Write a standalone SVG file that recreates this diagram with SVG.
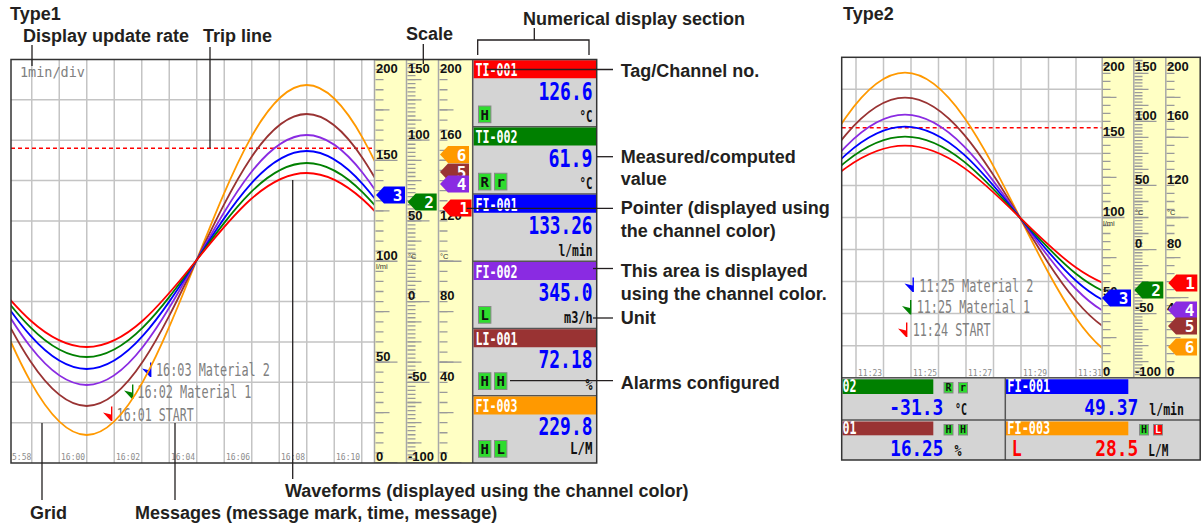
<svg xmlns="http://www.w3.org/2000/svg" width="1201" height="524" viewBox="0 0 1201 524">
<style>
.lbl{font-family:"Liberation Sans",Arial,sans-serif;font-weight:bold;font-size:18px;fill:#231f20}
.lead{stroke:#231f20;stroke-width:1.3;fill:none}
.grid{stroke:#c4c4c4;stroke-width:1.5;fill:none}
.frame{fill:none;stroke:#333;stroke-width:1.5}
.trip{stroke:#ff0000;stroke-width:1.5;stroke-dasharray:4 3}
.wave{fill:none;stroke-width:1.8}
.tm{font-family:"DejaVu Sans Mono","Liberation Mono",monospace;font-size:8px;fill:#8c8c8c}
.msg{font-family:"DejaVu Sans Mono","Liberation Mono",monospace;font-size:17px;fill:#808080}
.rate{font-family:"DejaVu Sans Mono","Liberation Mono",monospace;font-size:14px;fill:#808080}
.sc{font-family:"Liberation Sans",Arial,sans-serif;font-weight:bold;font-size:13px;fill:#111}
.scs{font-family:"Liberation Sans",Arial,sans-serif;font-size:7.5px;fill:#333}
.yel{fill:#ffffc4}
.colsep{stroke:#a8a8a8;stroke-width:1.5}
.tk{stroke:#9a9a9a;fill:none;stroke-dashoffset:0.65}
.tag{font-family:"DejaVu Sans Mono","Liberation Mono",monospace;font-weight:bold;font-size:17px;fill:#fff}
.val{font-family:"DejaVu Sans Mono","Liberation Mono",monospace;font-weight:bold;font-size:24px;fill:#0000ff;text-anchor:end}
.val2{font-family:"DejaVu Sans Mono","Liberation Mono",monospace;font-weight:bold;font-size:22px;fill:#0000ff}
.unit{font-family:"DejaVu Sans Mono","Liberation Mono",monospace;font-weight:bold;font-size:16px;fill:#111}
.alm{fill:#2edc2e;stroke:#888;stroke-width:1}
.almt{font-family:"DejaVu Sans Mono","Liberation Mono",monospace;font-weight:bold;font-size:14px;fill:#111;text-anchor:middle}
.almt2{font-family:"DejaVu Sans Mono","Liberation Mono",monospace;font-weight:bold;font-size:10px;fill:#111;text-anchor:middle}
.body{fill:#d4d4d4}
.sep{stroke:#555;stroke-width:1.5}
.ptxt{font-family:"DejaVu Sans Mono","Liberation Mono",monospace;font-weight:bold;font-size:16px;fill:#fff;text-anchor:end}
</style>
<defs>
  <clipPath id="clip1"><rect x="11" y="59.5" width="363" height="403.5"/></clipPath>
  <clipPath id="clip2"><rect x="841.7" y="57.3" width="260" height="320.4"/></clipPath>
  <!-- scale pointer, tip at origin -->
  <path id="ptr" d="M0,0 L8,-8.5 H29 V8.5 H8 Z"/>
  <!-- message mark: stem with a small flag -->
  <path id="mk" d="M0,0 H1.4 V14.5 H0 L-8,6 L0,8 Z"/>
</defs>

<rect width="1201" height="524" fill="#fff"/>

<!-- ===================== Type1 ===================== -->
<g id="type1-trend">
  <path class="grid" d="M31.75 59.5V463M59.25 59.5V463M86.75 59.5V463M114.25 59.5V463M141.75 59.5V463M169.25 59.5V463M196.75 59.5V463M224.25 59.5V463M251.75 59.5V463M279.25 59.5V463M306.75 59.5V463M334.25 59.5V463M361.75 59.5V463
    M11 99.85H374M11 140.2H374M11 180.55H374M11 220.9H374M11 261.25H374M11 301.6H374M11 341.95H374M11 382.3H374M11 422.65H374"/>
  <text class="rate" x="20" y="77" textLength="65" lengthAdjust="spacingAndGlyphs">1min/div</text>
  <g class="tm">
    <text x="12" y="460">5:58</text>
    <text x="61" y="460">16:00</text>
    <text x="116" y="460">16:02</text>
    <text x="171" y="460">16:04</text>
    <text x="226" y="460">16:06</text>
    <text x="281" y="460">16:08</text>
    <text x="336" y="460">16:10</text>
  </g>
  <line class="trip" x1="11" y1="148.3" x2="374" y2="148.3"/>
  <g id="type1-messages">
    <use href="#mk" x="150" y="362.5" fill="#0000ff"/>
    <text class="msg" x="156" y="376" textLength="114" lengthAdjust="spacingAndGlyphs">16:03 Material 2</text>
    <use href="#mk" x="132" y="384.5" fill="#008000"/>
    <text class="msg" x="137.3" y="398.3" textLength="114" lengthAdjust="spacingAndGlyphs">16:02 Material 1</text>
    <use href="#mk" x="111" y="406.5" fill="#ff0000"/>
    <text class="msg" x="116.7" y="420.7" textLength="77" lengthAdjust="spacingAndGlyphs">16:01 START</text>
  </g>
  <g id="type1-waveforms" clip-path="url(#clip1)">
    <path class="wave" stroke="#ff9900" d="M-23.3 260C12.6 349.7 46.9 435 86.7 435C126.5 435 160.8 349.7 196.7 260C232.6 170.3 266.9 85 306.7 85C346.5 85 380.8 170.3 416.7 260"/>
    <path class="wave" stroke="#993333" d="M-23.3 260C12.6 334.9 46.9 406 86.7 406C126.5 406 160.8 334.9 196.7 260C232.6 185.1 266.9 114 306.7 114C346.5 114 380.8 185.1 416.7 260"/>
    <path class="wave" stroke="#8a2be2" d="M-23.3 260C12.6 324.1 46.9 385 86.7 385C126.5 385 160.8 324.1 196.7 260C232.6 195.9 266.9 135 306.7 135C346.5 135 380.8 195.9 416.7 260"/>
    <path class="wave" stroke="#0000ff" d="M-23.3 260C12.6 315.9 46.9 369 86.7 369C126.5 369 160.8 315.9 196.7 260C232.6 204.1 266.9 151 306.7 151C346.5 151 380.8 204.1 416.7 260"/>
    <path class="wave" stroke="#008000" d="M-23.3 260C12.6 309.7 46.9 357 86.7 357C126.5 357 160.8 309.7 196.7 260C232.6 210.3 266.9 163 306.7 163C346.5 163 380.8 210.3 416.7 260"/>
    <path class="wave" stroke="#ff0000" d="M-23.3 260C12.6 304.6 46.9 347 86.7 347C126.5 347 160.8 304.6 196.7 260C232.6 215.4 266.9 173 306.7 173C346.5 173 380.8 215.4 416.7 260"/>
  </g>
</g>

<g id="type1-scales">
  <rect class="yel" x="374" y="59.5" width="98.7" height="403.5"/>
  <line class="colsep" x1="374.5" y1="59.5" x2="374.5" y2="463"/>
  <line class="colsep" x1="406.5" y1="59.5" x2="406.5" y2="463"/>
  <line class="colsep" x1="438.5" y1="59.5" x2="438.5" y2="463"/>
  <!-- 0..200 -->
  <line class="tk" x1="379.5" y1="463" x2="379.5" y2="59.5" stroke-width="8" stroke-dasharray="1.3 8.7875"/>
  <line class="tk" x1="382.5" y1="463" x2="382.5" y2="59.5" stroke-width="14" stroke-dasharray="1.3 49.1375"/>
  <line class="tk" x1="386.5" y1="463" x2="386.5" y2="59.5" stroke-width="22" stroke-dasharray="1.3 99.575"/>
  <!-- -100..150 -->
  <line class="tk" x1="411.5" y1="463" x2="411.5" y2="59.5" stroke-width="8" stroke-dasharray="1.3 2.735"/>
  <line class="tk" x1="414.5" y1="463" x2="414.5" y2="59.5" stroke-width="14" stroke-dasharray="1.3 18.875"/>
  <line class="tk" x1="418.5" y1="463" x2="418.5" y2="59.5" stroke-width="22" stroke-dasharray="1.3 79.4"/>
  <!-- 0..200 -->
  <line class="tk" x1="443.5" y1="463" x2="443.5" y2="59.5" stroke-width="8" stroke-dasharray="1.3 8.7875"/>
  <line class="tk" x1="446.5" y1="463" x2="446.5" y2="59.5" stroke-width="14" stroke-dasharray="1.3 49.1375"/>
  <line class="tk" x1="450.5" y1="463" x2="450.5" y2="59.5" stroke-width="22" stroke-dasharray="1.3 99.575"/>
  <g class="sc">
    <text x="376" y="72.5">200</text><text x="376" y="159">150</text><text x="376" y="259.8">100</text><text x="376" y="360.6">50</text><text x="376" y="461">0</text>
    <text x="408" y="72.5">150</text><text x="408" y="138.8">100</text><text x="408" y="219.6">50</text><text x="408" y="300.4">0</text><text x="408" y="381.2">-50</text><text x="408" y="461">-100</text>
    <text x="440" y="72.5">200</text><text x="440" y="138.8">160</text><text x="440" y="219.6">120</text><text x="440" y="300.4">80</text><text x="440" y="381.2">40</text><text x="440" y="461">0</text>
  </g>
  <g class="scs">
    <text x="376" y="269">l/mi</text>
    <text x="408" y="259">°C</text>
    <text x="440" y="259">°C</text>
  </g>
  <g id="type1-pointers">
    <use href="#ptr" x="376" y="195" fill="#0000ff"/><text class="ptxt" x="402.5" y="201">3</text>
    <use href="#ptr" x="407.7" y="202" fill="#008000"/><text class="ptxt" x="434" y="208">2</text>
    <use href="#ptr" x="440" y="154.5" fill="#ff9900"/><text class="ptxt" x="466.5" y="160.5">6</text>
    <use href="#ptr" x="440" y="172" fill="#993333"/><text class="ptxt" x="466.5" y="178">5</text>
    <use href="#ptr" x="440" y="184" fill="#8a2be2"/><text class="ptxt" x="466.5" y="190">4</text>
    <use href="#ptr" x="442.5" y="208" fill="#ff0000"/><text class="ptxt" x="469" y="214">1</text>
  </g>
</g>

<g id="type1-numeric">
  <rect class="body" x="472.7" y="59.5" width="124" height="403.5"/>
  <g id="ch-TI-001">
    <rect x="473.5" y="60.25" width="123" height="18" fill="#ff0000"/>
    <text class="tag" x="475.5" y="76" textLength="42" lengthAdjust="spacingAndGlyphs">TI-001</text>
    <text class="val" x="592.5" y="100" textLength="54" lengthAdjust="spacingAndGlyphs">126.6</text>
    <rect class="alm" x="478.5" y="106" width="12.4" height="16.7"/><text class="almt" x="484.7" y="119.5">H</text>
    <text class="unit" x="592.5" y="121.5" text-anchor="end" textLength="13" lengthAdjust="spacingAndGlyphs">°C</text>
  </g>
  <g id="ch-TI-002">
    <line class="sep" x1="472.7" y1="126.75" x2="596.7" y2="126.75"/>
    <rect x="473.5" y="127.5" width="123" height="18" fill="#008000"/>
    <text class="tag" x="475.5" y="143.25" textLength="42" lengthAdjust="spacingAndGlyphs">TI-002</text>
    <text class="val" x="592.5" y="166.75" textLength="44" lengthAdjust="spacingAndGlyphs">61.9</text>
    <rect class="alm" x="478.5" y="173.25" width="12.4" height="16.7"/><text class="almt" x="484.7" y="186.75">R</text>
    <rect class="alm" x="494.5" y="173.25" width="12.4" height="16.7"/><text class="almt" x="500.7" y="186.75">r</text>
    <text class="unit" x="592.5" y="188.75" text-anchor="end" textLength="13" lengthAdjust="spacingAndGlyphs">°C</text>
  </g>
  <g id="ch-FI-001">
    <line class="sep" x1="472.7" y1="194" x2="596.7" y2="194"/>
    <rect x="473.5" y="194.75" width="123" height="18" fill="#0000ff"/>
    <text class="tag" x="475.5" y="210.5" textLength="42" lengthAdjust="spacingAndGlyphs">FI-001</text>
    <text class="val" x="592.5" y="234" textLength="64" lengthAdjust="spacingAndGlyphs">133.26</text>
    <text class="unit" x="592.5" y="255.5" text-anchor="end" textLength="34" lengthAdjust="spacingAndGlyphs">l/min</text>
  </g>
  <g id="ch-FI-002">
    <line class="sep" x1="472.7" y1="261.25" x2="596.7" y2="261.25"/>
    <rect x="473.5" y="262" width="123" height="18" fill="#8a2be2"/>
    <text class="tag" x="475.5" y="277.75" textLength="42" lengthAdjust="spacingAndGlyphs">FI-002</text>
    <text class="val" x="592.5" y="300.75" textLength="54" lengthAdjust="spacingAndGlyphs">345.0</text>
    <rect class="alm" x="478.5" y="306.5" width="12.4" height="16.7"/><text class="almt" x="484.7" y="320">L</text>
    <text class="unit" x="592.5" y="322.5" text-anchor="end" textLength="28.5" lengthAdjust="spacingAndGlyphs">m3/h</text>
  </g>
  <g id="ch-LI-001">
    <line class="sep" x1="472.7" y1="328.5" x2="596.7" y2="328.5"/>
    <rect x="473.5" y="329.25" width="123" height="18" fill="#993333"/>
    <text class="tag" x="475.5" y="345" textLength="42" lengthAdjust="spacingAndGlyphs">LI-001</text>
    <text class="val" x="592.5" y="367.5" textLength="54" lengthAdjust="spacingAndGlyphs">72.18</text>
    <rect class="alm" x="478.5" y="372.75" width="12.4" height="16.7"/><text class="almt" x="484.7" y="386.25">H</text>
    <rect class="alm" x="494.5" y="372.75" width="12.4" height="16.7"/><text class="almt" x="500.7" y="386.25">H</text>
    <text class="unit" x="592.5" y="389.5" text-anchor="end" textLength="7" lengthAdjust="spacingAndGlyphs">%</text>
  </g>
  <g id="ch-FI-003">
    <line class="sep" x1="472.7" y1="395.75" x2="596.7" y2="395.75"/>
    <rect x="473.5" y="396.5" width="123" height="18" fill="#ff9900"/>
    <text class="tag" x="475.5" y="412.25" textLength="42" lengthAdjust="spacingAndGlyphs">FI-003</text>
    <text class="val" x="592.5" y="434.5" textLength="54" lengthAdjust="spacingAndGlyphs">229.8</text>
    <rect class="alm" x="478.5" y="440.5" width="12.4" height="16.7"/><text class="almt" x="484.7" y="454">H</text>
    <rect class="alm" x="494.5" y="440.5" width="12.4" height="16.7"/><text class="almt" x="500.7" y="454">L</text>
    <text class="unit" x="592.5" y="453.5" text-anchor="end" textLength="22.5" lengthAdjust="spacingAndGlyphs">L/M</text>
  </g>
  <line class="sep" x1="472.7" y1="59.5" x2="472.7" y2="463"/>
</g>
<rect class="frame" x="11" y="59.5" width="585.7" height="403.5"/>

<!-- ===================== Type2 ===================== -->
<g id="type2-trend">
  <path class="grid" d="M856 57.3V377.7M883.5 57.3V377.7M911 57.3V377.7M938.5 57.3V377.7M966 57.3V377.7M993.5 57.3V377.7M1021 57.3V377.7M1048.5 57.3V377.7M1076 57.3V377.7
    M841.7 89.34H1101.7M841.7 121.38H1101.7M841.7 153.42H1101.7M841.7 185.46H1101.7M841.7 217.5H1101.7M841.7 249.54H1101.7M841.7 281.58H1101.7M841.7 313.62H1101.7M841.7 345.66H1101.7"/>
  <g class="tm">
    <text x="858" y="375.5">11:23</text>
    <text x="913" y="375.5">11:25</text>
    <text x="968" y="375.5">11:27</text>
    <text x="1023" y="375.5">11:29</text>
    <text x="1078" y="375.5">11:31</text>
  </g>
  <line class="trip" x1="841.7" y1="127.7" x2="1101.7" y2="127.7"/>
  <g id="type2-messages">
    <use href="#mk" x="912.5" y="277.5" fill="#0000ff"/>
    <text class="msg" x="919.3" y="291.5" textLength="114" lengthAdjust="spacingAndGlyphs">11:25 Material 2</text>
    <use href="#mk" x="910" y="300" fill="#008000"/>
    <text class="msg" x="916.7" y="313.3" textLength="113.3" lengthAdjust="spacingAndGlyphs">11:25 Material 1</text>
    <use href="#mk" x="906" y="322.5" fill="#ff0000"/>
    <text class="msg" x="912.7" y="336" textLength="78" lengthAdjust="spacingAndGlyphs">11:24 START</text>
  </g>
  <g id="type2-waveforms" clip-path="url(#clip2)">
    <path class="wave" stroke="#ff9900" d="M790 217.7C827.5 143.3 863.4 72.7 905 72.7C946.6 72.7 982.5 143.3 1020 217.7C1057.5 292.1 1093.4 362.7 1135 362.7"/>
    <path class="wave" stroke="#993333" d="M790 217.7C827.5 156.2 863.4 97.7 905 97.7C946.6 97.7 982.5 156.2 1020 217.7C1057.5 279.2 1093.4 337.7 1135 337.7"/>
    <path class="wave" stroke="#8a2be2" d="M790 217.7C827.5 164.9 863.4 114.7 905 114.7C946.6 114.7 982.5 164.9 1020 217.7C1057.5 270.5 1093.4 320.7 1135 320.7"/>
    <path class="wave" stroke="#0000ff" d="M790 217.7C827.5 171 863.4 126.7 905 126.7C946.6 126.7 982.5 171 1020 217.7C1057.5 264.4 1093.4 308.7 1135 308.7"/>
    <path class="wave" stroke="#008000" d="M790 217.7C827.5 176.2 863.4 136.7 905 136.7C946.6 136.7 982.5 176.2 1020 217.7C1057.5 259.2 1093.4 298.7 1135 298.7"/>
    <path class="wave" stroke="#ff0000" d="M790 217.7C827.5 180.8 863.4 145.7 905 145.7C946.6 145.7 982.5 180.8 1020 217.7C1057.5 254.6 1093.4 289.7 1135 289.7"/>
  </g>
</g>

<g id="type2-scales">
  <rect class="yel" x="1101.7" y="57.3" width="99" height="320.4"/>
  <line class="colsep" x1="1102.2" y1="57.3" x2="1102.2" y2="377.7"/>
  <line class="colsep" x1="1133.8" y1="57.3" x2="1133.8" y2="377.7"/>
  <line class="colsep" x1="1165.8" y1="57.3" x2="1165.8" y2="377.7"/>
  <line class="tk" x1="1106.5" y1="377.7" x2="1106.5" y2="57.3" stroke-width="8" stroke-dasharray="1.3 6.71"/>
  <line class="tk" x1="1109.5" y1="377.7" x2="1109.5" y2="57.3" stroke-width="14" stroke-dasharray="1.3 38.75"/>
  <line class="tk" x1="1113.5" y1="377.7" x2="1113.5" y2="57.3" stroke-width="22" stroke-dasharray="1.3 78.8"/>
  <line class="tk" x1="1138.5" y1="377.7" x2="1138.5" y2="57.3" stroke-width="8" stroke-dasharray="1.3 1.904"/>
  <line class="tk" x1="1141.5" y1="377.7" x2="1141.5" y2="57.3" stroke-width="14" stroke-dasharray="1.3 14.72"/>
  <line class="tk" x1="1145.5" y1="377.7" x2="1145.5" y2="57.3" stroke-width="22" stroke-dasharray="1.3 62.78"/>
  <line class="tk" x1="1170.5" y1="377.7" x2="1170.5" y2="57.3" stroke-width="8" stroke-dasharray="1.3 6.71"/>
  <line class="tk" x1="1173.5" y1="377.7" x2="1173.5" y2="57.3" stroke-width="14" stroke-dasharray="1.3 38.75"/>
  <line class="tk" x1="1177.5" y1="377.7" x2="1177.5" y2="57.3" stroke-width="22" stroke-dasharray="1.3 78.8"/>
  <g class="sc">
    <text x="1103" y="70.5">200</text><text x="1103" y="136">150</text><text x="1103" y="216">100</text><text x="1103" y="296">50</text><text x="1103" y="376">0</text>
    <text x="1135" y="70.5">150</text><text x="1135" y="120">100</text><text x="1135" y="184">50</text><text x="1135" y="248">0</text><text x="1135" y="312">-50</text><text x="1135" y="376">-100</text>
    <text x="1167" y="70.5">200</text><text x="1167" y="120">160</text><text x="1167" y="184">120</text><text x="1167" y="248">80</text><text x="1167" y="312">40</text><text x="1167" y="376">0</text>
  </g>
  <g class="scs">
    <text x="1103" y="226">l/mi</text>
    <text x="1135" y="215">°C</text>
    <text x="1167" y="215">°C</text>
  </g>
  <g id="type2-pointers">
    <use href="#ptr" x="1102" y="298" fill="#0000ff"/><text class="ptxt" x="1128.5" y="304">3</text>
    <use href="#ptr" x="1134.3" y="290" fill="#008000"/><text class="ptxt" x="1160.8" y="296">2</text>
    <use href="#ptr" x="1168.3" y="283" fill="#ff0000"/><text class="ptxt" x="1194.8" y="289">1</text>
    <use href="#ptr" x="1168" y="310" fill="#8a2be2"/><text class="ptxt" x="1194.5" y="316">4</text>
    <use href="#ptr" x="1168" y="326" fill="#993333"/><text class="ptxt" x="1194.5" y="332">5</text>
    <use href="#ptr" x="1168" y="347" fill="#ff9900"/><text class="ptxt" x="1194.5" y="353">6</text>
  </g>
</g>

<g id="type2-numeric">
  <rect class="body" x="841.7" y="377.7" width="358.5" height="82.3"/>
  <g id="t2-ch-02">
    <rect x="842.5" y="379.3" width="90.8" height="14.7" fill="#008000"/>
    <text class="tag" x="842.5" y="391.5" textLength="14" lengthAdjust="spacingAndGlyphs">02</text>
    <rect class="alm" x="944" y="382.5" width="9" height="10.5"/><text class="almt2" x="948.5" y="391">R</text>
    <rect class="alm" x="958.5" y="382.5" width="9" height="10.5"/><text class="almt2" x="963" y="391">r</text>
    <text class="val2" x="943.3" y="414.5" text-anchor="end" textLength="54" lengthAdjust="spacingAndGlyphs">-31.3</text>
    <text class="unit" x="955" y="414.5" textLength="12" lengthAdjust="spacingAndGlyphs">°C</text>
  </g>
  <g id="t2-ch-FI-001">
    <rect x="1006" y="379.3" width="122.3" height="14.7" fill="#0000ff"/>
    <text class="tag" x="1007.3" y="391.5" textLength="43" lengthAdjust="spacingAndGlyphs">FI-001</text>
    <text class="val2" x="1138.3" y="414.5" text-anchor="end" textLength="54" lengthAdjust="spacingAndGlyphs">49.37</text>
    <text class="unit" x="1149.3" y="414.5" textLength="34.7" lengthAdjust="spacingAndGlyphs">l/min</text>
  </g>
  <g id="t2-ch-01">
    <rect x="842.5" y="421.5" width="90.8" height="13.8" fill="#993333"/>
    <text class="tag" x="842.5" y="433.5" textLength="14" lengthAdjust="spacingAndGlyphs">01</text>
    <rect class="alm" x="944" y="424.5" width="9" height="10.5"/><text class="almt2" x="948.5" y="433">H</text>
    <rect class="alm" x="958.5" y="424.5" width="9" height="10.5"/><text class="almt2" x="963" y="433">H</text>
    <text class="val2" x="943.3" y="456" text-anchor="end" textLength="53" lengthAdjust="spacingAndGlyphs">16.25</text>
    <text class="unit" x="954.5" y="456" textLength="7" lengthAdjust="spacingAndGlyphs">%</text>
  </g>
  <g id="t2-ch-FI-003">
    <rect x="1006" y="421.5" width="122.3" height="13.8" fill="#ff9900"/>
    <text class="tag" x="1007.3" y="433.5" textLength="43" lengthAdjust="spacingAndGlyphs">FI-003</text>
    <rect class="alm" x="1139.5" y="424.5" width="9" height="10.5"/><text class="almt2" x="1144" y="433">H</text>
    <rect x="1153.5" y="424.5" width="9" height="10.5" fill="#ff0000" stroke="#888" stroke-width="1"/><text class="almt2" x="1158" y="433" style="fill:#fff">L</text>
    <text class="val2" x="1011.7" y="456" style="fill:#ff0000" textLength="10" lengthAdjust="spacingAndGlyphs">L</text>
    <text class="val2" x="1138.3" y="456" text-anchor="end" style="fill:#ff0000" textLength="43" lengthAdjust="spacingAndGlyphs">28.5</text>
    <text class="unit" x="1148.3" y="456" textLength="20" lengthAdjust="spacingAndGlyphs">L/M</text>
  </g>
  <line class="sep" x1="841.7" y1="377.7" x2="1200.2" y2="377.7"/>
  <line class="sep" x1="841.7" y1="420" x2="1200.2" y2="420"/>
  <line class="sep" x1="1005.3" y1="377.7" x2="1005.3" y2="460"/>
</g>
<rect class="frame" x="841.7" y="57.3" width="358.5" height="402.7"/>

<!-- ===================== leader lines ===================== -->
<g id="connectors">
  <path class="lead" d="M32 45V66"/>
  <path class="lead" d="M210 47V148"/>
  <path class="lead" d="M423.3 44V64"/>
  <path class="lead" d="M477.7 55V40H589V55M534.3 28V40"/>
  <path class="lead" d="M486.7 69.5H613"/>
  <path class="lead" d="M597 156.7H613"/>
  <path class="lead" d="M466.7 208.3H613"/>
  <path class="lead" d="M593 268.5H613"/>
  <path class="lead" d="M593 318H613"/>
  <path class="lead" d="M510 380.7H613"/>
  <path class="lead" d="M292.7 180V479"/>
  <path class="lead" d="M42 423V500"/>
  <path class="lead" d="M175 423V500"/>
</g>

<!-- ===================== labels ===================== -->
<g id="labels">
  <text id="label-type1" class="lbl" x="10" y="20">Type1</text>
  <text id="label-rate" class="lbl" x="23" y="42">Display update rate</text>
  <text id="label-trip" class="lbl" x="203" y="42">Trip line</text>
  <text id="label-scale" class="lbl" x="406" y="40">Scale</text>
  <text id="label-numeric" class="lbl" x="523" y="25">Numerical display section</text>
  <text id="label-tag" class="lbl" x="620.7" y="77">Tag/Channel no.</text>
  <text id="label-measured" class="lbl" x="620.7" y="163"><tspan x="620.7">Measured/computed</tspan><tspan x="620.7" y="185">value</tspan></text>
  <text id="label-pointer" class="lbl" x="620.7" y="214"><tspan x="620.7">Pointer (displayed using</tspan><tspan x="620.7" y="237">the channel color)</tspan></text>
  <text id="label-area" class="lbl" x="620.7" y="277"><tspan x="620.7">This area is displayed</tspan><tspan x="620.7" y="300">using the channel color.</tspan></text>
  <text id="label-unit" class="lbl" x="620.7" y="324">Unit</text>
  <text id="label-alarms" class="lbl" x="620.7" y="389">Alarms configured</text>
  <text id="label-type2" class="lbl" x="843" y="20">Type2</text>
  <text id="label-waveforms" class="lbl" x="285" y="497">Waveforms (displayed using the channel color)</text>
  <text id="label-grid" class="lbl" x="30" y="519">Grid</text>
  <text id="label-messages" class="lbl" x="135" y="519">Messages (message mark, time, message)</text>
</g>
</svg>
